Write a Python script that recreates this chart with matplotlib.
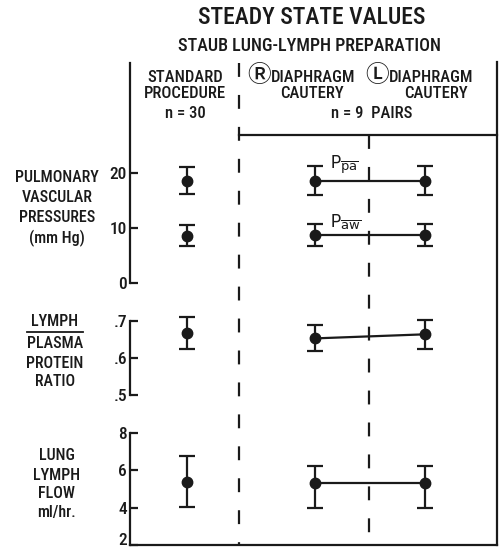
import matplotlib
matplotlib.use("Agg")
import matplotlib.pyplot as plt
from matplotlib import font_manager
from matplotlib.transforms import ScaledTranslation

# ---------------- data ----------------
groups = ["STANDARD\nPROCEDURE\nn = 30", "\u24C7DIAPHRAGM\nCAUTERY", "\u24C1DIAPHRAGM\nCAUTERY"]

ppa_mean = [18.6, 18.6, 18.6]
ppa_err = [2.5, 2.6, 2.6]
paw_mean = [8.6, 8.8, 8.8]
paw_err = [1.9, 2.0, 2.0]

ratio_mean = [0.667, 0.653, 0.664]
ratio_err = [0.044, 0.035, 0.039]

flow_mean = [5.39, 5.3, 5.3]
flow_err_low = [1.37, 1.3, 1.3]
flow_err_high = [1.38, 0.95, 0.95]

pres_ticks = [0, 10, 20]
pres_ticklabels = ["0", "10", "20"]
ratio_ticks = [0.5, 0.6, 0.7]
ratio_ticklabels = [".5", ".6", ".7"]
flow_ticks = [2, 4, 6, 8]
flow_ticklabels = ["2", "4", "6", "8"]

# ---------------- fonts ----------------
avail = {f.name for f in font_manager.fontManager.ttflist}
fam = "DejaVu Sans"
for c in ["Liberation Sans Narrow", "DejaVu Sans Condensed", "Roboto Condensed",
          "Open Sans Condensed", "Liberation Sans"]:
    if c in avail:
        fam = c
        break
FAMS = [fam, "DejaVu Sans", "Noto Sans CJK JP"]
plt.rcParams["font.family"] = FAMS
plt.rcParams["mathtext.fontset"] = "dejavusans"
plt.rcParams["lines.scale_dashes"] = False

W, H = 503, 549
fig = plt.figure(figsize=(W / 100, H / 100), dpi=100)

def fx(px):
    return px / W

def fy(py):
    return 1 - py / H

# layout (pixels)
X0, X1 = 130, 497
xpos = [57, 185, 295]  # positions along the panel x axis (layout)
LW = 1.6
ink = "#1a1a1a"
WT = "medium"

def make_panel(top, bottom, ylim, ticks, labels, bottom_spine=False):
    ax = fig.add_axes([fx(X0), fy(bottom), fx(X1) - fx(X0), fy(top) - fy(bottom)])
    ax.set_xlim(0, X1 - X0)
    ax.set_ylim(*ylim)
    ax.patch.set_alpha(0)
    for s in ["top", "right"]:
        ax.spines[s].set_visible(False)
    ax.spines["bottom"].set_visible(bottom_spine)
    ax.spines["left"].set_linewidth(LW)
    ax.spines["bottom"].set_linewidth(LW)
    ax.spines["left"].set_color(ink)
    ax.spines["bottom"].set_color(ink)
    ax.set_xticks([])
    ax.set_yticks(ticks)
    ax.set_yticklabels(labels, fontweight=WT)
    ax.tick_params(axis="y", direction="in", length=6, width=LW, pad=2,
                   labelsize=12.5, colors=ink)
    return ax

ax1 = make_panel(63, 283, (0, 40), pres_ticks, pres_ticklabels)
ax2 = make_panel(321, 395, (0.5, 0.7), ratio_ticks, ratio_ticklabels)
ax3 = make_panel(433, 545, (2, 8), flow_ticks, flow_ticklabels, bottom_spine=True)
# keep lowest label inside the picture
lab = ax3.get_yticklabels()[0]
lab.set_transform(lab.get_transform() + ScaledTranslation(0, 4 / 72, fig.dpi_scale_trans))

ekw = dict(fmt="o", color=ink, ms=7.5, capsize=5.5, elinewidth=LW, capthick=LW,
           clip_on=False, zorder=3)

def plot_group(ax, means, low, high=None):
    if high is None:
        high = low
    ax.errorbar(xpos[:1], means[:1], yerr=[low[:1], high[:1]], **ekw)
    ax.errorbar(xpos[1:], means[1:], yerr=[low[1:], high[1:]], **ekw)
    ax.plot(xpos[1:], means[1:], color=ink, lw=LW, zorder=2)

plot_group(ax1, ppa_mean, ppa_err)
plot_group(ax1, paw_mean, paw_err)
plot_group(ax2, ratio_mean, ratio_err)
plot_group(ax3, flow_mean, flow_err_low, flow_err_high)

ax1.text(xpos[1] + 15, ppa_mean[1] + 0.9, r"P$_{\overline{\mathrm{pa}}}$", fontsize=13.5,
         ha="left", va="bottom", color=ink)
ax1.text(xpos[1] + 15, paw_mean[1] + 0.5, r"P$_{\overline{\mathrm{aw}}}$", fontsize=13.5,
         ha="left", va="bottom", color=ink)

# ---------------- overlay for frame / text ----------------
ov = fig.add_axes([0, 0, 1, 1], zorder=-1)
ov.set_xlim(0, W)
ov.set_ylim(H, 0)
ov.axis("off")

ov.plot([497, 497], [62, 545], color=ink, lw=LW)
ov.plot([239, 239], [63, 545], color=ink, lw=LW, ls=(0, (10, 13)))
ov.plot([369, 369], [135, 545], color=ink, lw=LW, ls=(0, (10, 13)))
ov.plot([239, 497], [135, 135], color=ink, lw=LW)

def T(x, y, s, size, ha="center", **kw):
    ov.text(x, y, s, fontsize=size, ha=ha, va="center", color=ink,
            fontweight=WT, **kw)

T(312, 17, "STEADY STATE VALUES", 17)
T(310, 46, "STAUB LUNG-LYMPH PREPARATION", 13)

hs = 12
T(185, 77, "STANDARD", hs)
T(185, 94, "PROCEDURE", hs)
T(185, 113, "n = 30", hs)
T(259, 76, "\u24C7", 17, family=["Noto Sans CJK JP", "DejaVu Sans"], fontstretch="normal")
T(271, 77, "DIAPHRAGM", hs, ha="left")
T(312, 94, "CAUTERY", hs)
T(377, 76, "\u24C1", 17, family=["Noto Sans CJK JP", "DejaVu Sans"])
T(389, 77, "DIAPHRAGM", hs, ha="left")
T(436, 94, "CAUTERY", hs)
T(372, 113, "n = 9  PAIRS", hs)

ls = 11.5
for txt, y in [("PULMONARY", 178), ("VASCULAR", 197), ("PRESSURES", 217), ("(mm Hg)", 238)]:
    T(57, y, txt, ls)
T(55, 322, "LYMPH", ls)
ov.plot([27, 83], [332, 332], color=ink, lw=1.3)
for txt, y in [("PLASMA", 343), ("PROTEIN", 363), ("RATIO", 382)]:
    T(55, y, txt, ls)
for txt, y in [("LUNG", 455), ("LYMPH", 475), ("FLOW", 493), ("ml/hr.", 512)]:
    T(57, y, txt, ls)

fig.savefig("out.png", dpi=100, facecolor="white")
